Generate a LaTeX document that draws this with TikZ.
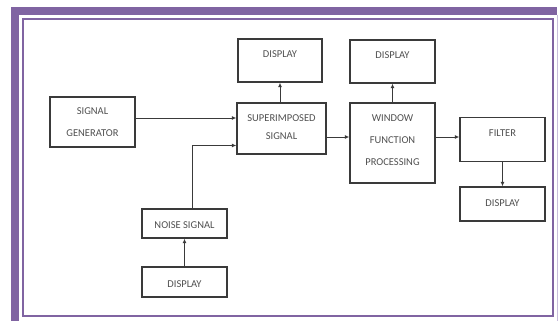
\documentclass[tikz,border=0pt]{standalone}
\usepackage{fontspec}
\setmainfont{Carlito}
\usetikzlibrary{arrows.meta}
\definecolor{frame}{HTML}{8064A2}
\definecolor{framelt}{HTML}{C9BEDB}
\definecolor{ink}{HTML}{3A3A3A}
\definecolor{txtc}{HTML}{505050}
\tikzset{
  box/.style={draw=ink, line width=1.4pt, inner sep=0pt, fill=white},
  txt/.style={text=txtc, font=\fontsize{10.5}{12}\selectfont, inner sep=0pt, align=center},
  arr/.style={draw=ink, line width=0.9pt, -{Latex[length=4.5pt,width=4pt]}}
}
\begin{document}
\begin{tikzpicture}[x=1pt,y=-1pt]
\useasboundingbox (0,0) rectangle (558,321);
\fill[white] (0,0) rectangle (558,321);
% frame
\fill[frame] (11,7) rectangle (19,321);
\fill[frame] (11,7) rectangle (557,15);
\draw[framelt, line width=1pt] (557.5,15) -- (557.5,321);
\draw[frame, line width=2pt] (23,19) rectangle (553,316);
% boxes
\node[box, minimum width=85, minimum height=50] (gen) at (92.5,122) {};
\node[txt] (gent1) at (92.5,111.5) {SIGNAL};
\node[txt] (gent2) at (92.5,133.5) {GENERATOR};
\node[box, minimum width=84, minimum height=43] (disp1) at (280,60.5) {};
\node[txt] (disp1t) at (280,54) {DISPLAY};
\node[box, minimum width=89, minimum height=51] (sup) at (281.5,128.5) {};
\node[txt] (supt1) at (281.5,118) {SUPERIMPOSED};
\node[txt] (supt2) at (281.5,136.5) {SIGNAL};
\node[box, minimum width=85, minimum height=43] (disp2) at (392.5,61.5) {};
\node[txt] (disp2t) at (392.5,55) {DISPLAY};
\node[box, minimum width=85, minimum height=80] (win) at (392.5,143) {};
\node[txt] (wint1) at (392.5,118) {WINDOW};
\node[txt] (wint2) at (392.5,140) {FUNCTION};
\node[txt] (wint3) at (392.5,162) {PROCESSING};
\node[box, minimum width=85, minimum height=44] (filt) at (502.5,139.5) {};
\node[txt] (filtt) at (502.5,133) {FILTER};
\node[box, minimum width=85, minimum height=34] (disp3) at (502.5,204) {};
\node[txt] (disp3t) at (502.5,203.5) {DISPLAY};
\node[box, minimum width=85, minimum height=29] (noise) at (184.5,223.5) {};
\node[txt] (noiset) at (184.5,225) {NOISE SIGNAL};
\node[box, minimum width=85, minimum height=30] (disp4) at (184.5,282) {};
\node[txt] (disp4t) at (184.5,284) {DISPLAY};
% connectors
\draw[arr] ([yshift=4]gen.east) -- ([yshift=4]gen.east -| sup.west);
\draw[arr] ([xshift=7.5]noise.north) |- ([yshift=-17]sup.west);
\draw[arr] (disp4.north) -- (noise.south);
\draw[arr] (sup.north -| disp1.south) -- (disp1.south);
\draw[arr] ([yshift=-8.5]sup.east) -- ([yshift=-8.5]sup.east -| win.west);
\draw[arr] (win.north) -- (disp2.south);
\draw[arr] ([yshift=6]win.east) -- ([yshift=6]win.east -| filt.west);
\draw[arr] (filt.south) -- (disp3.north);
\end{tikzpicture}
\end{document}
